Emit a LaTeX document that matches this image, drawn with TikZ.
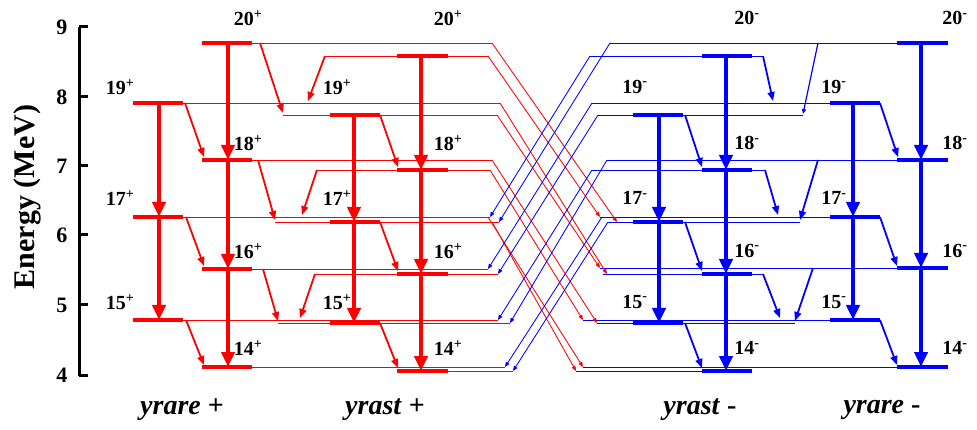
\documentclass[tikz,border=0pt]{standalone}
\usepackage{fontspec}
\setmainfont{Liberation Serif}
\usetikzlibrary{arrows.meta}
\begin{document}
\begin{tikzpicture}[x=1pt,y=-1pt,
  lvl/.style={line width=4pt},
  tl/.style={line width=0.9pt},
  bigarr/.style={line width=4pt,-{Triangle[length=15pt,width=13pt]}},
  midarr/.style={line width=1.8pt,-{Triangle[length=9pt,width=7pt]}},
  xarr/.style={line width=0.85pt,-{Triangle[length=5pt,width=4pt]}},
  lab/.style={font=\fontsize{20}{20}\selectfont\bfseries},
  axlab/.style={font=\fontsize{22}{22}\selectfont\bfseries},
  band/.style={font=\fontsize{28}{28}\selectfont\bfseries}]
\useasboundingbox (0,0) rectangle (977,430);
% axis
\draw[line width=3pt] (79,27) -- (79,376);
\foreach \yy/\e in {27/9,97/8,166/7,235/6,305/5,375/4}{
  \draw[line width=3pt] (79,\yy) -- (88,\yy);
  \node[axlab,anchor=east] (ax\e) at (71,\yy) {\e};}
\node[font=\fontsize{30}{30}\selectfont\bfseries,rotate=90] (ylab) at (27,197) {Energy (MeV)};
% ---- thin red lines (positive parity)
\foreach \a/\b/\yy in {252/492/43,325/488/56,183/500/103,283/497/115,252/492/160,317/490/170,
  183/490/217,275/499/222,252/488/269,315/498/274,183/498/320,278/510/323,252/505/367,448/513/371}
  \draw[red,tl] (\a,\yy) -- (\b,\yy);
% ---- thin blue lines (negative parity)
\foreach \a/\b/\yy in {610/897/43,590/763/56,592/830/103,598/803/115,607/897/160,592/765/170,
  600/830/217,608/800/222,600/897/268,603/763/274,583/830/320,597/795/323,583/897/367,576/702/371}
  \draw[blue,tl] (\a,\yy) -- (\b,\yy);
% ---- crossing transitions
\foreach \a/\b/\c/\d in {492/43/617/222,488/56/600/217,500/103/607/274,497/115/600/268,
  492/160/597/323,490/170/583/320,488/217/583/367,492/222/576/371}
  \draw[red,xarr] (\a,\b) -- (\c,\d);
\foreach \a/\b/\c/\d in {610/43/499/222,590/56/490/217,592/103/488/269,598/115/498/274,
  607/160/510/323,592/170/498/320,602/217/505/367,608/222/513/371}
  \draw[blue,xarr] (\a,\b) -- (\c,\d);
% ---- levels
\foreach \yy in {103,217,320} {\draw[red,lvl] (133,\yy) -- (183,\yy); \draw[blue,lvl] (830,\yy) -- (880,\yy);}
\foreach \yy in {43,160,269,367} \draw[red,lvl] (202,\yy) -- (252,\yy);
\foreach \yy in {43,160,268,367} \draw[blue,lvl] (897,\yy) -- (948,\yy);
\foreach \yy in {115,222,323} {\draw[red,lvl] (330,\yy) -- (380,\yy); \draw[blue,lvl] (633,\yy) -- (683,\yy);}
\foreach \yy in {56,170,274,371} {\draw[red,lvl] (397,\yy) -- (448,\yy); \draw[blue,lvl] (702,\yy) -- (752,\yy);}
% ---- vertical E2 arrows
\draw[red,bigarr] (159,103) -- (159,217);
\draw[red,bigarr] (159,217) -- (159,320);
\draw[red,bigarr] (228,43) -- (228,160);
\draw[red,bigarr] (228,160) -- (228,269);
\draw[red,bigarr] (228,269) -- (228,367);
\draw[red,bigarr] (354,115) -- (354,222);
\draw[red,bigarr] (354,222) -- (354,323);
\draw[red,bigarr] (421,56) -- (421,170);
\draw[red,bigarr] (421,170) -- (421,274);
\draw[red,bigarr] (421,274) -- (421,371);
\draw[blue,bigarr] (659,115) -- (659,222);
\draw[blue,bigarr] (659,222) -- (659,323);
\draw[blue,bigarr] (726,56) -- (726,170);
\draw[blue,bigarr] (726,170) -- (726,274);
\draw[blue,bigarr] (726,274) -- (726,371);
\draw[blue,bigarr] (853,103) -- (853,217);
\draw[blue,bigarr] (853,217) -- (853,320);
\draw[blue,bigarr] (921,43) -- (921,160);
\draw[blue,bigarr] (921,160) -- (921,268);
\draw[blue,bigarr] (921,268) -- (921,367);
% ---- slanted in-band / inter-band arrows
\foreach \a/\b/\c/\d in {185/103/204/157,186/217/204/266,186/320/204/365,
  380/115/398/167,380/222/398/271,380/323/398/368,
  260/43/283/113,325/56/308/101,258/160/275/220,317/170/302/215,263/269/278/321,315/274/300/318}
  \draw[red,midarr] (\a,\b) -- (\c,\d);
\foreach \a/\b/\c/\d in {685/115/702/167,685/222/702/271,685/323/702/368,
  880/103/898/157,880/217/897/266,880/320/897/365,
  763/56/773/101,765/170/778/215,763/274/780/318,818/160/800/220,813/268/795/321}
  \draw[blue,midarr] (\a,\b) -- (\c,\d);
\draw[blue,line width=1.2pt,-{Triangle[length=5pt,width=4pt]}] (818,43) -- (803,114);
% ---- labels
\foreach \xx/\s in {248/+,448/+,747/-,955/-}{
  \node[lab] at (\xx,18) {20\textsuperscript{\s}};
  \node[lab] at (\xx,143) {18\textsuperscript{\s}};
  \node[lab] at (\xx,251) {16\textsuperscript{\s}};
  \node[lab] at (\xx,348) {14\textsuperscript{\s}};}
\foreach \xx/\s in {120/+,337/+,635/-,834/-}{
  \node[lab] at (\xx,87) {19\textsuperscript{\s}};
  \node[lab] at (\xx,198) {17\textsuperscript{\s}};
  \node[lab] at (\xx,302) {15\textsuperscript{\s}};}
\node[band] (b1) at (182,410) {\textit{yrare} +};
\node[band] (b2) at (385,410) {\textit{yrast} +};
\node[band] (b3) at (700,410) {\textit{yrast} -};
\node[band] (b4) at (882,410) {\textit{yrare} -};
\end{tikzpicture}
\end{document}
